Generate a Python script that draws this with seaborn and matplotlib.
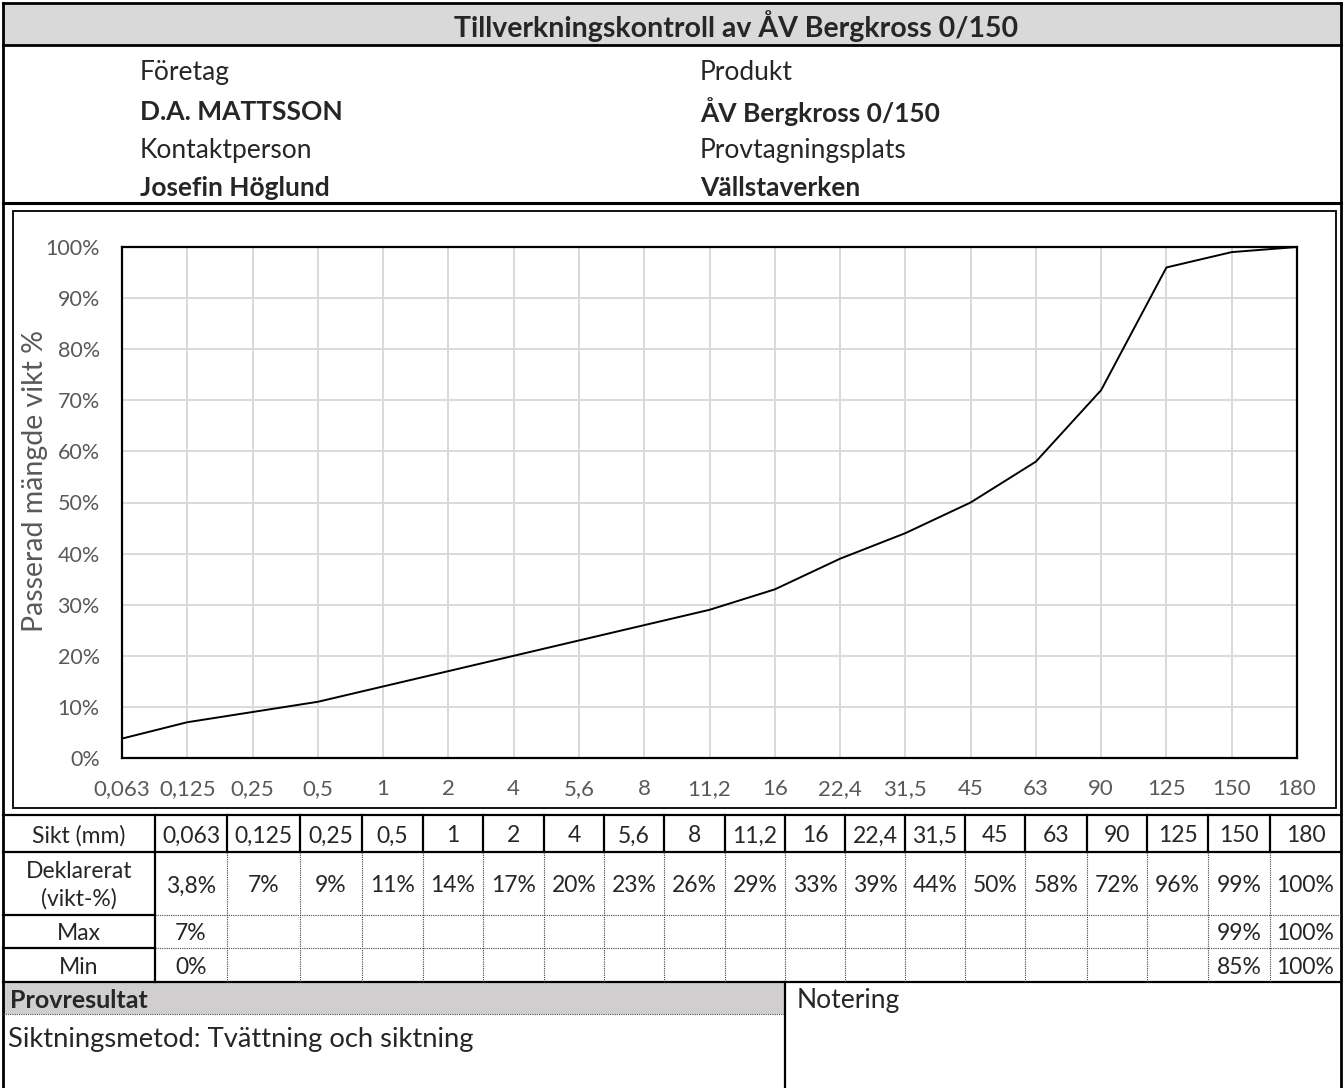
import matplotlib.pyplot as plt
import seaborn as sns
import pandas as pd
from matplotlib.lines import Line2D
from matplotlib.patches import Rectangle

# Data
sikt = ['0,063', '0,125', '0,25', '0,5', '1', '2', '4', '5,6', '8', '11,2',
        '16', '22,4', '31,5', '45', '63', '90', '125', '150', '180']
deklarerat = [3.8, 7, 9, 11, 14, 17, 20, 23, 26, 29, 33, 39, 44, 50, 58, 72, 96, 99, 100]
max_txt = ['7%'] + [''] * 16 + ['99%', '100%']
min_txt = ['0%'] + [''] * 16 + ['85%', '100%']

titel = 'Tillverkningskontroll av ÅV Bergkross 0/150'
foretag = 'D.A. MATTSSON'
kontakt = 'Josefin Höglund'
produkt = 'ÅV Bergkross 0/150'
plats = 'Vällstaverken'

sns.set_theme(style='white')
plt.rcParams['font.family'] = ['Lato', 'DejaVu Sans']

W, H = 1344, 1088
fig = plt.figure(figsize=(W / 100, H / 100), dpi=100)

# bakgrundsaxel i pixelkoordinater
bg = fig.add_axes([0, 0, 1, 1])
bg.set_xlim(0, W)
bg.set_ylim(H, 0)
bg.axis('off')

def line(x0, y0, x1, y1, lw=1.6, dotted=False):
    if dotted:
        bg.add_line(Line2D([x0, x1], [y0, y1], lw=0.8, color='#444444', ls=(0, (1, 1))))
    else:
        bg.add_line(Line2D([x0, x1], [y0, y1], lw=lw, color='black', solid_capstyle='projecting'))

def txt(x, y, s, ha='left', fs=19, bold=False, **kw):
    bg.text(x, y, s, ha=ha, va='center_baseline', fontsize=fs,
            fontweight='bold' if bold else 'normal', **kw)

L, R = 3, 1341
# titelrad
bg.add_patch(Rectangle((L, 3), R - L, 42, facecolor='#d9d9d9', edgecolor='none'))
line(L, 3, R, 3, lw=2)
line(L, 45, R, 45, lw=2)
txt(736, 24, titel, ha='center', fs=20.5, bold=True)

# huvud
hs = 19
txt(140, 70, 'Företag', fs=hs)
txt(140, 110, foretag, fs=hs, bold=True)
txt(140, 148, 'Kontaktperson', fs=hs)
txt(140, 186, kontakt, fs=hs, bold=True)
txt(700, 70, 'Produkt', fs=hs)
txt(700, 110, produkt, fs=hs, bold=True)
txt(700, 148, 'Provtagningsplats', fs=hs)
txt(700, 186, plats, fs=hs, bold=True)
line(L, 203, R, 203, lw=2.2)

# yttre ramar
line(L, 3, L, H, lw=2)
line(R, 3, R, H, lw=2)
bg.add_patch(Rectangle((13, 211), 1323, 597, facecolor='none', edgecolor='black', lw=1.3))

# diagram
ax = fig.add_axes([122 / W, 1 - 758 / H, 1175 / W, 511 / H])
df = pd.DataFrame({'pos': range(len(sikt)), 'passerat': deklarerat})
sns.lineplot(data=df, x='pos', y='passerat', color='black', lw=1.4, ax=ax)
ax.set_xlim(0, len(sikt) - 1)
ax.set_ylim(0, 100)
ax.set_xticks(range(len(sikt)))
ax.set_xticklabels(sikt)
ax.set_yticks(range(0, 101, 10))
ax.set_yticklabels([f'{v}%' for v in range(0, 101, 10)])
ax.grid(True, color='#d9d9d9', lw=1.4)
ax.set_axisbelow(True)
for s in ax.spines.values():
    s.set_color('black')
    s.set_linewidth(1.6)
ax.tick_params(axis='both', length=0, labelcolor='#595959')
ax.tick_params(axis='x', pad=15, labelsize=16)
ax.tick_params(axis='y', pad=16, labelsize=15.5)
ax.set_xlabel('')
ax.set_ylabel('Passerad mängde vikt %', fontsize=20.5, color='#595959', va='center')
ax.yaxis.set_label_coords(-87 / 1175, (758 - 481) / 511)

# tabell
kol = [155, 227, 300, 362, 423, 483, 544, 604, 664, 725, 785, 845, 905,
       965, 1025, 1087, 1147, 1208, 1270, R]
rad = [815, 852, 915, 948, 982]
fs = 16.5
line(L, rad[0], R, rad[0])
line(L, rad[1], R, rad[1])
for y in rad[2:4]:
    line(L, y, kol[0], y)
    line(kol[0], y, R, y, dotted=True)
line(L, rad[4], R, rad[4])
line(kol[0], rad[0], kol[0], rad[4])
for x in kol[1:-1]:
    line(x, rad[0], x, rad[1])
    line(x, rad[1], x, rad[4], dotted=True)

cx0 = (L + kol[0]) / 2
txt(cx0, 834, 'Sikt (mm)', ha='center', fs=fs)
txt(cx0, 870, 'Deklarerat', ha='center', fs=fs)
txt(cx0, 897, '(vikt-%)', ha='center', fs=fs)
txt(cx0, 932, 'Max', ha='center', fs=fs)
txt(cx0, 966, 'Min', ha='center', fs=fs)
for i, s in enumerate(sikt):
    cx = (kol[i] + kol[i + 1]) / 2
    txt(cx, 834, s, ha='center', fs=fs)
    v = deklarerat[i]
    txt(cx, 884, (f'{v:g}%').replace('.', ','), ha='center', fs=fs)
    txt(cx, 932, max_txt[i], ha='center', fs=fs)
    txt(cx, 966, min_txt[i], ha='center', fs=fs)

# provresultat / notering
bg.add_patch(Rectangle((L, 983), 785 - L, 31, facecolor='#d0cece', edgecolor='none'))
line(L, 1014, 785, 1014, dotted=True)
line(785, 982, 785, H)
txt(10, 998, 'Provresultat', fs=18, bold=True)
txt(8, 1037, 'Siktningsmetod: Tvättning och siktning', fs=19.7)
txt(797, 998, 'Notering', fs=19)

fig.savefig('out.png', dpi=100)
